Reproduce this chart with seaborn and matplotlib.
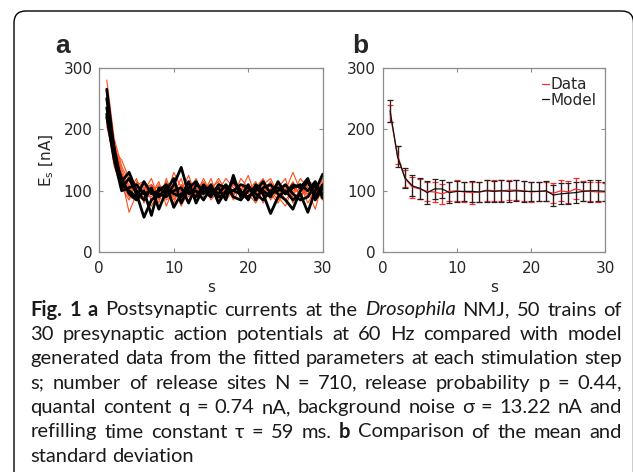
import numpy as np
import pandas as pd
import matplotlib
matplotlib.use("Agg")
import matplotlib.pyplot as plt
import seaborn as sns
from matplotlib.patches import FancyBboxPatch
from matplotlib.transforms import IdentityTransform

# ---------------- data ----------------
steps = list(range(1, 31))

data_traces = [
    [280, 185, 140, 115, 100, 95, 110, 90, 100, 120, 95, 105, 85, 100, 110, 95, 100, 115, 90, 100, 105, 95, 90, 110, 100, 85, 100, 105, 95, 110],
    [210, 150, 120, 65, 95, 110, 85, 100, 95, 80, 110, 100, 120, 90, 95, 105, 85, 100, 110, 95, 80, 100, 115, 90, 75, 105, 95, 100, 85, 100],
    [245, 170, 130, 100, 120, 80, 105, 95, 110, 100, 85, 115, 95, 105, 90, 110, 100, 90, 120, 105, 95, 110, 85, 100, 95, 115, 90, 110, 100, 95],
    [230, 160, 110, 90, 85, 105, 95, 115, 75, 105, 100, 90, 110, 95, 120, 85, 105, 95, 100, 125, 90, 105, 100, 85, 110, 95, 105, 90, 115, 100],
    [220, 145, 125, 110, 95, 100, 120, 85, 105, 95, 120, 80, 100, 115, 100, 95, 110, 85, 105, 95, 110, 80, 105, 95, 100, 130, 100, 95, 105, 90],
    [260, 175, 135, 105, 100, 90, 75, 100, 90, 130, 105, 95, 90, 110, 85, 100, 120, 105, 90, 110, 100, 95, 110, 105, 85, 100, 110, 80, 100, 105],
    [205, 155, 115, 95, 110, 115, 100, 80, 120, 90, 95, 110, 105, 85, 105, 115, 90, 110, 95, 85, 105, 120, 95, 80, 105, 90, 85, 115, 110, 95],
    [250, 165, 150, 120, 90, 85, 95, 110, 100, 110, 75, 100, 95, 120, 95, 90, 105, 100, 110, 100, 115, 90, 100, 115, 95, 105, 95, 100, 70, 115],
    [235, 180, 125, 100, 105, 95, 90, 105, 85, 95, 100, 125, 90, 100, 110, 100, 95, 120, 85, 105, 95, 100, 90, 105, 120, 80, 105, 95, 100, 85],
    [215, 140, 105, 85, 115, 105, 110, 95, 115, 85, 110, 95, 115, 95, 100, 120, 100, 95, 100, 90, 100, 110, 120, 95, 100, 95, 120, 105, 90, 120],
]

model_traces = [
    [265, 165, 105, 120, 95, 57, 85, 95, 90, 110, 138, 95, 100, 85, 105, 95, 110, 90, 85, 100, 105, 95, 63, 90, 100, 85, 95, 65, 100, 127],
    [250, 160, 115, 130, 100, 85, 105, 70, 100, 120, 80, 105, 115, 95, 110, 80, 100, 115, 100, 85, 110, 100, 90, 115, 95, 105, 110, 100, 115, 88],
    [235, 170, 110, 100, 90, 115, 95, 100, 110, 73, 95, 100, 90, 110, 95, 105, 85, 125, 90, 110, 85, 105, 110, 95, 85, 70, 100, 115, 90, 110],
    [225, 155, 120, 95, 85, 100, 60, 105, 95, 100, 105, 80, 110, 100, 90, 110, 105, 100, 95, 90, 100, 115, 95, 100, 110, 95, 85, 90, 110, 95],
    [220, 150, 100, 105, 110, 95, 100, 90, 105, 95, 90, 115, 80, 105, 100, 90, 95, 100, 110, 105, 95, 85, 100, 105, 95, 110, 105, 120, 85, 105],
]

data_mean = [225, 158, 120, 106, 103, 99, 98, 95, 99, 100, 98, 97, 98, 101, 100, 100, 101, 101, 100, 98, 99, 99, 96, 100, 98, 103, 100, 99, 98, 98]
data_std = [14, 15, 14, 17, 16, 15, 16, 16, 16, 17, 16, 18, 16, 17, 17, 17, 16, 16, 16, 17, 16, 16, 16, 17, 18, 17, 16, 16, 17, 15]
model_mean = [230, 155, 121, 108, 104, 97, 103, 103, 97, 99, 99, 99, 98, 100, 99, 100, 99, 100, 99, 99, 99, 100, 93, 95, 96, 97, 99, 100, 100, 99]
model_std = [18, 17, 16, 17, 17, 19, 16, 15, 17, 17, 16, 17, 16, 18, 17, 18, 17, 17, 17, 16, 16, 16, 17, 17, 17, 17, 16, 18, 17, 16]

x_ticks = [0, 10, 20, 30]
y_ticks = [0, 100, 200, 300]
legend_labels = ["Data", "Model"]

caption_lines = [
    [("Fig. 1 a", "bold", "normal"), ("Postsynaptic currents at the", "normal", "normal"),
     ("Drosophila", "normal", "italic"), ("NMJ, 50 trains of", "normal", "normal")],
    [("30 presynaptic action potentials at 60 Hz compared with model", "normal", "normal")],
    [("generated data from the fitted parameters at each stimulation step", "normal", "normal")],
    [("s; number of release sites N = 710, release probability p = 0.44,", "normal", "normal")],
    [("quantal content q = 0.74 nA, background noise σ = 13.22 nA and", "normal", "normal")],
    [("refilling time constant τ = 59 ms.", "normal", "normal"), ("b", "bold", "normal"),
     ("Comparison of the mean and", "normal", "normal")],
    [("standard deviation", "normal", "normal")],
]

# ---------------- style ----------------
sns.set_theme(style="white")
plt.rcParams["font.family"] = ["DejaVu Sans"]
plt.rcParams.update({
    "axes.edgecolor": "#8c8c8c",
    "axes.linewidth": 0.9,
    "xtick.color": "#8c8c8c",
    "ytick.color": "#8c8c8c",
    "xtick.labelcolor": "#262626",
    "ytick.labelcolor": "#262626",
    "xtick.direction": "in",
    "ytick.direction": "in",
    "xtick.major.size": 3,
    "ytick.major.size": 3,
    "xtick.major.width": 0.8,
    "ytick.major.width": 0.8,
    "xtick.top": True,
    "ytick.right": True,
    "xtick.bottom": True,
    "ytick.left": True,
})

W, H = 633, 472
fig = plt.figure(figsize=(W / 100, H / 100), dpi=100)


def frac(x0, y0, x1, y1):
    return [x0 / W, 1 - y1 / H, (x1 - x0) / W, (y1 - y0) / H]


ax_a = fig.add_axes(frac(99.3, 67.7, 322.7, 252.3))
ax_b = fig.add_axes(frac(382.7, 67.7, 605.3, 252.3))

# panel a
rows = []
for i, tr in enumerate(data_traces):
    for s, v in zip(steps, tr):
        rows.append(("data", i, s, v))
for i, tr in enumerate(model_traces):
    for s, v in zip(steps, tr):
        rows.append(("model", i, s, v))
df_a = pd.DataFrame(rows, columns=["kind", "trace", "s", "E"])

sns.lineplot(data=df_a[df_a.kind == "data"], x="s", y="E", units="trace", estimator=None,
             color="#ff4d1a", lw=0.8, ax=ax_a, legend=False)
sns.lineplot(data=df_a[df_a.kind == "model"], x="s", y="E", units="trace", estimator=None,
             color="black", lw=2.0, ax=ax_a, legend=False)

# panel b
df_b = pd.DataFrame({"s": steps, "data": data_mean, "model": model_mean})
ax_b.errorbar(steps, data_mean, yerr=data_std, fmt="none", ecolor="#ff2a2a",
              elinewidth=0.9, capsize=2, capthick=0.9)
ax_b.errorbar(steps, model_mean, yerr=model_std, fmt="none", ecolor="#222222",
              elinewidth=0.9, capsize=2, capthick=0.9)
sns.lineplot(data=df_b, x="s", y="data", color="#ff2a2a", lw=0.9, ax=ax_b, label=legend_labels[0])
sns.lineplot(data=df_b, x="s", y="model", color="#111111", lw=0.9, ax=ax_b, label=legend_labels[1])
leg = ax_b.legend(loc="upper right", frameon=False, handlelength=0.4, handletextpad=0.1,
                  fontsize=11, borderaxespad=0.2, labelspacing=0.05)
for t in leg.get_texts():
    t.set_color("#262626")

for ax in (ax_a, ax_b):
    ax.set_xlim(0, 30)
    ax.set_ylim(0, 300)
    ax.set_xticks(x_ticks)
    ax.set_yticks(y_ticks)
    ax.tick_params(labelsize=11, pad=5)
    ax.tick_params(axis="x", pad=6)
    ax.set_xlabel("s", fontsize=11, color="#262626", labelpad=3)
    ax.set_ylabel("")

ax_a.set_ylabel("E$_\\mathregular{s}$ [nA]", fontsize=11, color="#262626", labelpad=5)

fig.text(55 / W, 1 - 53 / H, "a", fontsize=19, fontweight="bold", family="Liberation Sans",
         ha="left", va="baseline")
fig.text(352 / W, 1 - 53 / H, "b", fontsize=19, fontweight="bold", family="Liberation Sans",
         ha="left", va="baseline")

# border
border = FancyBboxPatch((14, -30), 619.5, H - 11 + 30,
                        boxstyle="round,pad=0,rounding_size=12",
                        transform=IdentityTransform(), fill=False, edgecolor="black", lw=1.0)
fig.patches.append(border)

# caption (justified)
fig.canvas.draw()
renderer = fig.canvas.get_renderer()
left_px, right_px = 30.5, 622.0
cap_font = "Lato"

# choose size so the densest line fits with natural spacing
probe = fig.text(0, 0, "generated data from the fitted parameters at each stimulation step",
                 fontsize=14, family=cap_font)
pw = probe.get_window_extent(renderer).width
probe.remove()
cap_size = 14 * (right_px - left_px) / pw * 0.995

baselines = [315.5 + 24.4 * i for i in range(7)]

sp_probe = fig.text(0, 0, "a a", fontsize=cap_size, family=cap_font)
a_probe = fig.text(0, 0, "aa", fontsize=cap_size, family=cap_font)
space_w = sp_probe.get_window_extent(renderer).width - a_probe.get_window_extent(renderer).width
sp_probe.remove()
a_probe.remove()

for li, (line, yb) in enumerate(zip(caption_lines, baselines)):
    words = []
    for chunk, wt, st in line:
        for w in chunk.split(" "):
            words.append((w, wt, st))
    texts = []
    widths = []
    for w, wt, st in words:
        t = fig.text(0, 1 - yb / H, w, fontsize=cap_size, family=cap_font, fontweight=wt,
                     fontstyle=st, color="#1a1a1a", ha="left", va="baseline")
        bb = t.get_window_extent(renderer)
        texts.append(t)
        widths.append(bb.width)
    total = sum(widths)
    if li == len(caption_lines) - 1:
        gap = space_w
    else:
        gap = (right_px - left_px - total) / (len(words) - 1)
    x = left_px
    for t, w in zip(texts, widths):
        t.set_x(x / W)
        x += w + gap

fig.savefig("out.png", dpi=100)
